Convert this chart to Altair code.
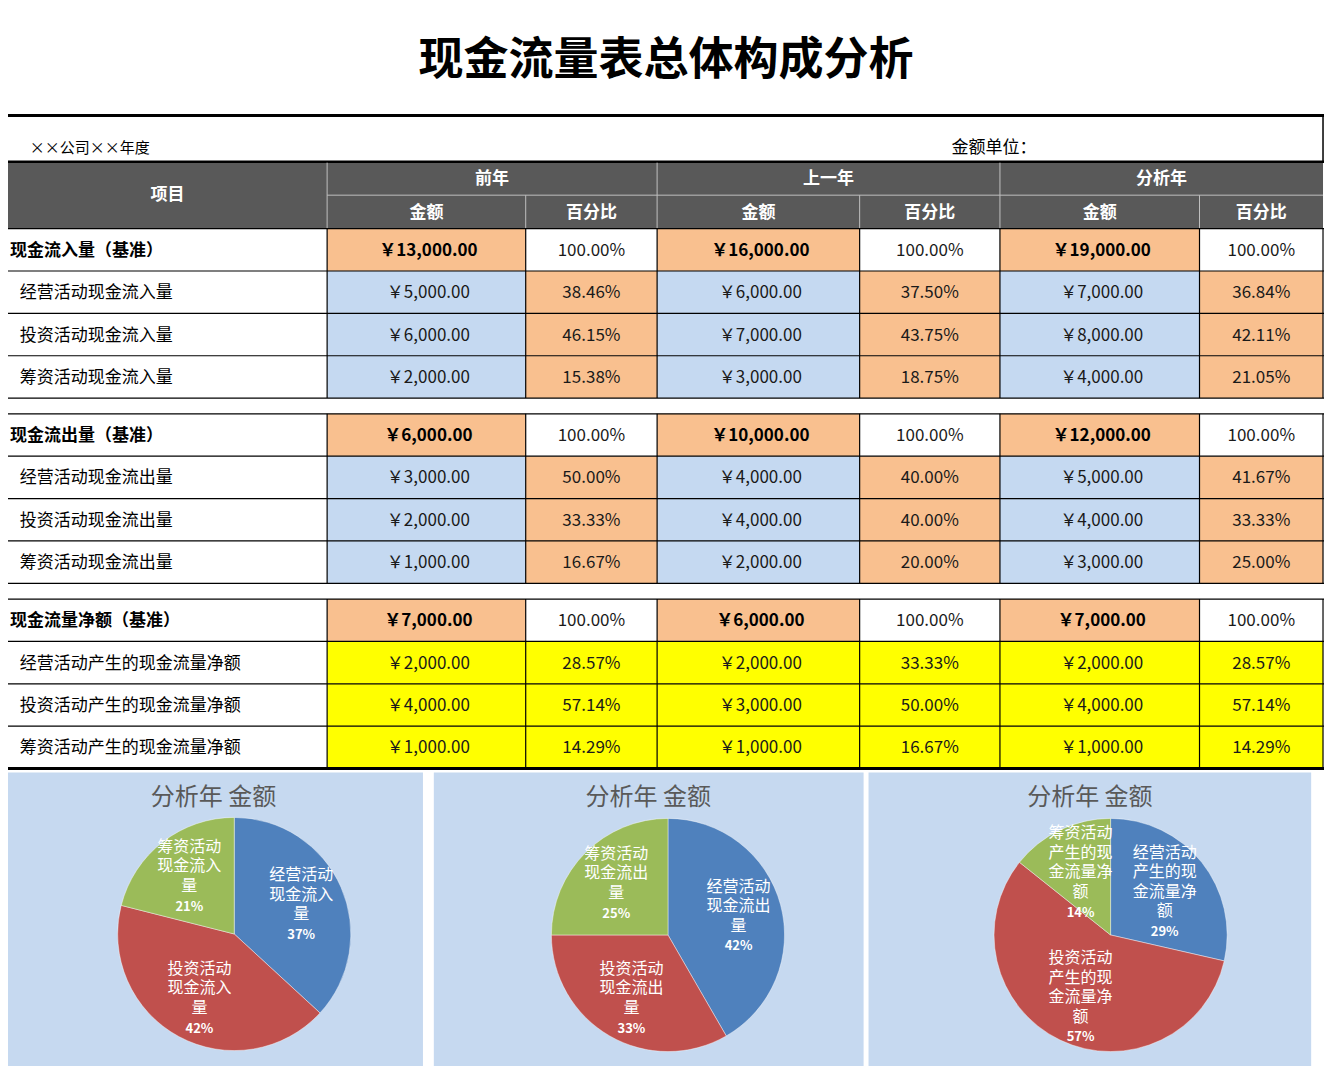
import altair as alt
import pandas as pd

FONT = "Noto Sans CJK SC"

# ---------------- data ----------------
title_text = "现金流量表总体构成分析"
company_text = "××公司××年度"
unit_text = "金额单位："
item_header = "项目"
year_headers = ["前年", "上一年", "分析年"]
sub_headers = ["金额", "百分比"]

items = ["现金流入量（基准）", "经营活动现金流入量", "投资活动现金流入量", "筹资活动现金流入量",
         "现金流出量（基准）", "经营活动现金流出量", "投资活动现金流出量", "筹资活动现金流出量",
         "现金流量净额（基准）", "经营活动产生的现金流量净额", "投资活动产生的现金流量净额", "筹资活动产生的现金流量净额"]
prev_amount = [13000, 5000, 6000, 2000, 6000, 3000, 2000, 1000, 7000, 2000, 4000, 1000]
prev_pct = [100.00, 38.46, 46.15, 15.38, 100.00, 50.00, 33.33, 16.67, 100.00, 28.57, 57.14, 14.29]
last_amount = [16000, 6000, 7000, 3000, 10000, 4000, 4000, 2000, 6000, 2000, 3000, 1000]
last_pct = [100.00, 37.50, 43.75, 18.75, 100.00, 40.00, 40.00, 20.00, 100.00, 33.33, 50.00, 16.67]
ana_amount = [19000, 7000, 8000, 4000, 12000, 5000, 4000, 3000, 7000, 2000, 4000, 1000]
ana_pct = [100.00, 36.84, 42.11, 21.05, 100.00, 41.67, 33.33, 25.00, 100.00, 28.57, 57.14, 14.29]

pie_title = "分析年 金额"
pie_colors = ["#4F81BD", "#C0504D", "#9BBB59"]

# ---------------- layout (reference pixels) ----------------
REF_W, REF_H = 1332, 1074
W, H = 1316, 1058
SX, SY = W / REF_W, H / REF_H
col_edges = [0, 323, 524, 657, 862, 1004, 1206, 1331]
TABLE_TOP, HEAD_TOP, HEAD_MID, HEAD_BOT = 109, 156, 190, 224
ROW_H, GAP_H = 43, 16
ORANGE, BLUE, YELLOW, HEADER, GRID = "#F9C08F", "#C5D9F1", "#FFFF00", "#595959", "#BFBFBF"
PANEL = "#C6D9F0"
panels = [(0, 420), (431, 866), (871, 1319)]
PANEL_TOP = 776
pie_centers = [(229, 940), (668, 941), (1116, 941)]
pie_title_x = [208, 648, 1095]
PIE_TITLE_Y = 802
PIE_R = 118
LABEL_R = [74, 74, 70]


def row_top(i):
    g, k = divmod(i, 4)
    return HEAD_BOT + g * (4 * ROW_H + GAP_H) + k * ROW_H


xs = alt.Scale(domain=[0, REF_W], nice=False, zero=False)
ys = alt.Scale(domain=[REF_H, 0], nice=False, zero=False)

# ---------------- cells ----------------
cells = []
cells.append(dict(x1=0, x2=col_edges[-1], y1=HEAD_TOP, y2=HEAD_BOT, fill=HEADER))
amounts = [prev_amount, last_amount, ana_amount]
pcts = [prev_pct, last_pct, ana_pct]
texts = []
for i, name in enumerate(items):
    g, k = divmod(i, 4)
    base = k == 0
    t = row_top(i)
    b = t + ROW_H
    cy = (t + b) / 2 + 1
    cells.append(dict(x1=0, x2=col_edges[1], y1=t, y2=b, fill="#FFFFFF"))
    texts.append(dict(x=2 if base else 12, y=cy, text=name, style="lbl_b" if base else "lbl_r"))
    for yi in range(3):
        ca, cp = 1 + 2 * yi, 2 + 2 * yi
        fa = ORANGE if base else (YELLOW if g == 2 else BLUE)
        fp = "#FFFFFF" if base else (YELLOW if g == 2 else ORANGE)
        cells.append(dict(x1=col_edges[ca], x2=col_edges[ca + 1], y1=t, y2=b, fill=fa))
        cells.append(dict(x1=col_edges[cp], x2=col_edges[cp + 1], y1=t, y2=b, fill=fp))
        texts.append(dict(x=(col_edges[ca] + col_edges[ca + 1]) / 2 + 2, y=cy,
                          text="￥{:,.2f}".format(amounts[yi][i]), style="num_b" if base else "num_r"))
        texts.append(dict(x=(col_edges[cp] + col_edges[cp + 1]) / 2, y=cy,
                          text="{:.2f}%".format(pcts[yi][i]), style="num_r"))
for (x1, x2) in panels:
    cells.append(dict(x1=x1, x2=x2, y1=PANEL_TOP, y2=REF_H, fill=PANEL))
cells_df = pd.DataFrame(cells)

# header texts
texts.append(dict(x=(col_edges[0] + col_edges[1]) / 2, y=(HEAD_TOP + HEAD_BOT) / 2, text=item_header, style="head"))
for yi, yh in enumerate(year_headers):
    a, c = col_edges[1 + 2 * yi], col_edges[3 + 2 * yi]
    texts.append(dict(x=(a + c) / 2, y=(HEAD_TOP + HEAD_MID) / 2 + 1, text=yh, style="head"))
    for si, sh in enumerate(sub_headers):
        e1, e2 = col_edges[1 + 2 * yi + si], col_edges[2 + 2 * yi + si]
        texts.append(dict(x=(e1 + e2) / 2, y=(HEAD_MID + HEAD_BOT) / 2 + 1, text=sh, style="head"))
texts.append(dict(x=666, y=54, text=title_text, style="title"))
texts.append(dict(x=22, y=142, text=company_text, style="info"))
texts.append(dict(x=955, y=142, text=unit_text, style="unit"))
for px in pie_title_x:
    texts.append(dict(x=px, y=PIE_TITLE_Y, text=pie_title, style="pie_title"))
texts_df = pd.DataFrame(texts)

# ---------------- rules ----------------
rules = []
rules.append(dict(x1=0, x2=REF_W, y1=TABLE_TOP, y2=TABLE_TOP, c="#000000", w=3))
rules.append(dict(x1=col_edges[-1], x2=col_edges[-1], y1=TABLE_TOP, y2=HEAD_TOP, c="#000000", w=1.5))
rules.append(dict(x1=0, x2=col_edges[-1] + 1, y1=HEAD_TOP, y2=HEAD_TOP, c="#000000", w=2.5))
rules.append(dict(x1=col_edges[1], x2=col_edges[-1], y1=HEAD_MID, y2=HEAD_MID, c=GRID, w=1))
for e in [col_edges[1], col_edges[3], col_edges[5]]:
    rules.append(dict(x1=e, x2=e, y1=HEAD_TOP + 1, y2=HEAD_BOT, c=GRID, w=1))
for e in [col_edges[2], col_edges[4], col_edges[6]]:
    rules.append(dict(x1=e, x2=e, y1=HEAD_MID, y2=HEAD_BOT, c=GRID, w=1))
for g in range(3):
    gt = row_top(4 * g)
    gb = gt + 4 * ROW_H
    for k in range(5):
        yy = gt + k * ROW_H
        w = 3 if (g == 2 and k == 4) else 1.2
        rules.append(dict(x1=0, x2=col_edges[-1] + 1, y1=yy, y2=yy, c="#000000", w=w))
    for e in col_edges[1:]:
        rules.append(dict(x1=e, x2=e, y1=gt, y2=gb, c="#000000", w=1.2))
rules_df = pd.DataFrame(rules)

# ---------------- chart ----------------
X = lambda f: alt.X(f, scale=xs, axis=None)
Y = lambda f: alt.Y(f, scale=ys, axis=None)

rect_layer = alt.Chart(cells_df).mark_rect(strokeWidth=0).encode(
    x=X("x1:Q"), x2="x2:Q", y=Y("y1:Q"), y2="y2:Q", color=alt.Color("fill:N", scale=None))
rule_layer = alt.Chart(rules_df).mark_rule().encode(
    x=X("x1:Q"), x2="x2:Q", y=Y("y1:Q"), y2="y2:Q",
    color=alt.Color("c:N", scale=None), strokeWidth=alt.StrokeWidth("w:Q", scale=None))

styles = {
    "title": dict(fontSize=45, fontWeight="bold", color="#000000", align="center"),
    "info": dict(fontSize=15, fontWeight="normal", color="#000000", align="left"),
    "unit": dict(fontSize=17, fontWeight="normal", color="#000000", align="left"),
    "head": dict(fontSize=17, fontWeight="bold", color="#FFFFFF", align="center"),
    "lbl_b": dict(fontSize=17, fontWeight="bold", color="#000000", align="left"),
    "lbl_r": dict(fontSize=17, fontWeight="normal", color="#000000", align="left"),
    "num_b": dict(fontSize=17, fontWeight="bold", color="#000000", align="center"),
    "num_r": dict(fontSize=17, fontWeight="normal", color="#1A1A1A", align="center"),
    "pie_title": dict(fontSize=24, fontWeight="normal", color="#595959", align="center"),
}
text_layers = []
for st, props in styles.items():
    sub = texts_df[texts_df["style"] == st]
    text_layers.append(
        alt.Chart(sub).mark_text(font=FONT, baseline="middle", **props).encode(
            x=X("x:Q"), y=Y("y:Q"), text="text:N"))

pie_rows = [[1, 2, 3], [5, 6, 7], [9, 10, 11]]
pie_layers = []
for p, rows in enumerate(pie_rows):
    labels = []
    for r in rows:
        nm = items[r]
        labels.append("\n".join(nm[j:j + 4] for j in range(0, len(nm), 4)))
    nlines = [lb.count("\n") + 1 for lb in labels]
    df = pd.DataFrame({
        "value": [ana_amount[r] for r in rows],
        "pct": [ana_pct[r] / 100 for r in rows],
        "order": [0, 1, 2],
        "color": pie_colors,
        "label": labels,
    })
    cx, cy = pie_centers[p]
    n = nlines[0]
    half = (n * 19.5) / 2
    base = alt.Chart(df).encode(
        theta=alt.Theta("value:Q", stack=True),
        order=alt.Order("order:Q"),
        x=alt.value(cx * SX), y=alt.value(cy * SY))
    arc = base.mark_arc(radius=PIE_R * SX, stroke="#FFFFFF", strokeWidth=0.6, strokeOpacity=0.7).encode(
        color=alt.Color("color:N", scale=None))
    names = base.mark_text(radius=LABEL_R[p] * SX, font=FONT, fontSize=16, color="#FFFFFF",
                           lineBreak="\n", lineHeight=19.5, baseline="top", align="center",
                           dy=-(half + 9 - 9.75) - 9).encode(text="label:N")
    pctt = base.mark_text(radius=LABEL_R[p] * SX, font=FONT, fontSize=13, fontWeight="bold",
                          color="#FFFFFF", baseline="middle", align="center",
                          dy=half + 1).encode(text=alt.Text("pct:Q", format=".0%"))
    pie_layers.append(alt.layer(arc, names, pctt))

chart = alt.layer(rect_layer, rule_layer, *text_layers, *pie_layers).resolve_scale(
    theta="independent"
).properties(
    width=W, height=H, autosize=alt.AutoSizeParams(type="none"), padding=0
).configure_view(stroke=None)

chart.save("out.html", embed_options={"renderer": "svg", "actions": False})
